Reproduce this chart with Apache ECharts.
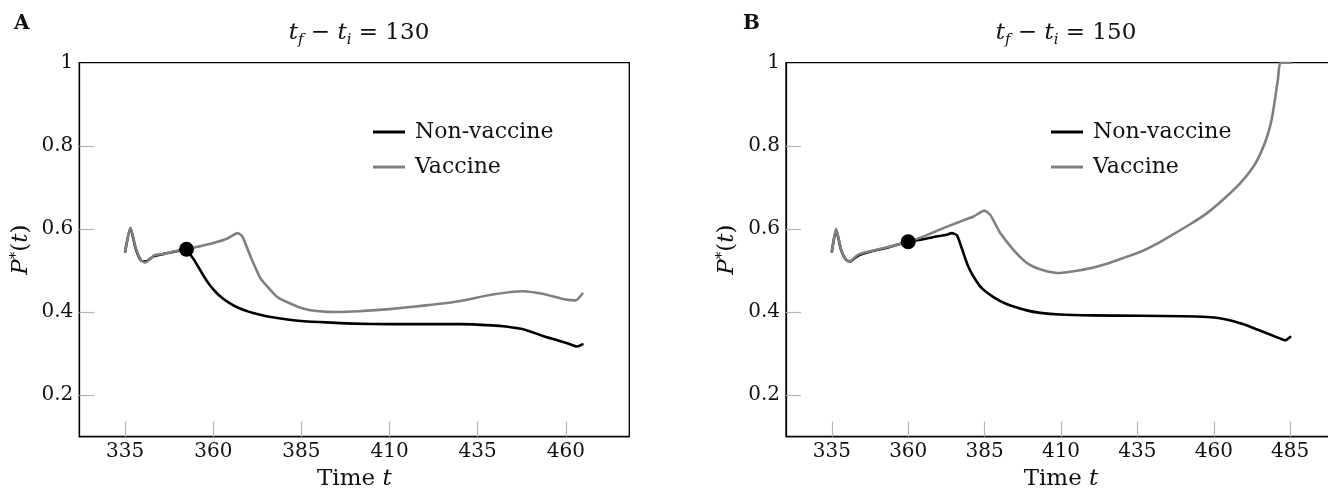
<!DOCTYPE html>
<html><head><meta charset="utf-8">
<script src="https://cdn.jsdelivr.net/npm/echarts@6/dist/echarts.min.js"></script>
<style>html,body{margin:0;padding:0;background:#fff;overflow:hidden}#c{width:1328px;height:491px}</style>
</head><body><div id="c"></div>
<script>
// ---- Panel A (t_f - t_i = 130) ----
const tA_non = [335,336.5,338,339.5,341,343,346,349,352.4,353.5,354.6,356,357.4,359,360.5,362.2,364.5,366.9,370,373,376.3,381,385.7,392,400,410,420,430,439,443,448.6,453.3,458,461,463.2,464.7];
const pA_non = [0.545,0.602,0.552,0.524,0.522,0.534,0.540,0.545,0.551,0.538,0.525,0.505,0.485,0.465,0.450,0.436,0.422,0.411,0.401,0.394,0.388,0.382,0.378,0.375,0.372,0.371,0.371,0.371,0.368,0.365,0.357,0.343,0.331,0.323,0.317,0.322];
const tA_vac = [335,336.5,338,339.5,340.7,342,343.3,346,349,352.4,356,360,364,366.9,368.3,370.6,373.4,376,378.2,382,385.7,390,395,401.4,410,420.3,429.7,439.2,447.7,453.3,460,462.8,463.7,464.7];
const pA_vac = [0.545,0.603,0.555,0.525,0.519,0.527,0.537,0.540,0.546,0.551,0.558,0.566,0.577,0.590,0.581,0.533,0.481,0.455,0.436,0.420,0.408,0.402,0.400,0.402,0.407,0.416,0.426,0.442,0.450,0.444,0.430,0.428,0.434,0.444];
const dotA = [352.4, 0.551];

// ---- Panel B (t_f - t_i = 150) ----
const tB_non = [335,336.4,338,339.5,341,342.5,344.2,348,352,356,360,364,368,372.6,374.3,375.9,377,378.1,379.5,381.4,384,387.9,392,398.8,403.2,409.7,420,436,450,457.8,462,466.5,470,474.2,478,481.8,483.4,485];
const pB_non = [0.545,0.598,0.550,0.527,0.521,0.530,0.538,0.546,0.553,0.561,0.569,0.574,0.580,0.586,0.590,0.585,0.565,0.541,0.512,0.485,0.458,0.436,0.420,0.404,0.398,0.394,0.392,0.391,0.390,0.388,0.385,0.378,0.370,0.358,0.347,0.336,0.332,0.340];
const tB_vac = [335,336.4,338,339.5,341,342.5,344.2,348,352,356,360,365,371.5,376,381.4,384.9,386.8,388.5,390.1,394.5,398,401,405,409.7,414.1,420,425,430,436,441,446,452,457.8,463,468.7,473,475.2,477.5,479,480.1,481,481.8,485];
const pB_vac = [0.545,0.600,0.552,0.527,0.521,0.532,0.540,0.547,0.554,0.561,0.569,0.582,0.602,0.615,0.630,0.644,0.634,0.612,0.590,0.549,0.523,0.509,0.499,0.494,0.498,0.506,0.516,0.529,0.545,0.563,0.584,0.610,0.638,0.670,0.710,0.750,0.780,0.823,0.865,0.915,0.960,1.0,1.0];
const dotB = [360, 0.569];

// ---- axes ----
const xTicksA = [335,360,385,410,435,460];
const xTicksB = [335,360,385,410,435,460,485];
const yTicks = [0.2,0.4,0.6,0.8,1];
const seriesNames = ['Non-vaccine','Vaccine'];
const titlesVal = ['130','150'];
const panelLetters = ['A','B'];

const zip = (t,p) => t.map((v,i)=>[v,p[i]]);
const FONT = 'DejaVu Serif';

function xAxis(idx, min, max, ticks){
  return {type:'value', gridIndex:idx, min, max,
    axisLine:{show:true, onZero:false, lineStyle:{color:'#000', width:1.3}},
    axisTick:{show:true, inside:true, length:15, customValues:ticks, lineStyle:{color:'#b4b4b4', width:1.2}},
    axisLabel:{customValues:ticks, margin:5, fontFamily:FONT, fontSize:20, color:'#111'},
    splitLine:{show:false},
    name:'Time {i|t}', nameLocation:'middle', nameGap:31,
    nameTextStyle:{fontFamily:FONT, fontSize:23, color:'#111', rich:{i:{fontFamily:FONT, fontStyle:'italic', fontSize:23, color:'#111'}}}
  };
}
function yAxis(idx){
  return {type:'value', gridIndex:idx, min:0.1, max:1,
    axisLine:{show:true, onZero:false, lineStyle:{color:'#000', width:1.3}},
    axisTick:{show:true, inside:true, length:15, customValues:[0.2,0.4,0.6,0.8], lineStyle:{color:'#b4b4b4', width:1.2}},
    axisLabel:{customValues:yTicks, margin:6, fontFamily:FONT, fontSize:20, color:'#111',
      formatter:v=> (Math.abs(v-1)<1e-9 ? '1' : v.toFixed(1))},
    splitLine:{show:false},
    name:'{i|P}{s|*}({i|t})', nameLocation:'middle', nameGap:46, nameRotate:90,
    nameTextStyle:{fontFamily:FONT, fontSize:23, color:'#111',
      rich:{i:{fontFamily:FONT, fontStyle:'italic', fontSize:23, color:'#111'},
            s:{fontFamily:FONT, fontSize:15, color:'#111', padding:[0,0,10,0]}}}
  };
}
function lineSeries(name, idx, data, color){
  return {type:'line', name, xAxisIndex:idx, yAxisIndex:idx, data, color,
    showSymbol:false, symbol:'none', smooth:0.2, clip:true,
    lineStyle:{color, width:2.6, join:'round', cap:'round'}, animation:false, z:2};
}
function dotSeries(idx, pt){
  return {type:'scatter', xAxisIndex:idx, yAxisIndex:idx, data:[pt], symbol:'circle', symbolSize:15,
    itemStyle:{color:'#000', opacity:1}, z:5, animation:false, silent:true};
}
function legend(left){
  return {orient:'vertical', left, top:115, itemWidth:32, itemHeight:3, itemGap:11, icon:'rect',
    data:seriesNames, selectedMode:false,
    textStyle:{fontFamily:FONT, fontSize:22, color:'#111', lineHeight:24, padding:[0,0,0,5]}};
}
const titleRich = {
  i:{fontFamily:FONT, fontStyle:'italic', fontWeight:'normal', fontSize:23, color:'#111'},
  s:{fontFamily:FONT, fontStyle:'italic', fontWeight:'normal', fontSize:15, color:'#111', padding:[14,0,0,0]},
  n:{fontFamily:FONT, fontWeight:'normal', fontSize:23, color:'#111'}
};
function title(left, val){
  return {text:'{i|t}{s|f}{n| − }{i|t}{s|i}{n| = '+val+'}', left, top:14, textAlign:'center',
    textStyle:{fontWeight:'normal', rich:titleRich}};
}

const chart = echarts.init(document.getElementById('c'), null, {renderer:'canvas', width:1328, height:491});
chart.setOption({
  animation:false,
  backgroundColor:'#fff',
  title:[
    title(354,titlesVal[0]),
    title(1061,titlesVal[1]),
    {text:panelLetters[0], left:9, top:9, textStyle:{fontFamily:FONT, fontSize:20, fontWeight:'bold', color:'#111'}},
    {text:panelLetters[1], left:738, top:9, textStyle:{fontFamily:FONT, fontSize:20, fontWeight:'bold', color:'#111'}}
  ],
  legend:[legend(368), legend(1046)],
  grid:[
    {left:79.3, top:62.7, width:550, height:374, show:true, borderColor:'#000', borderWidth:1.3, containLabel:false, outerBoundsMode:'none'},
    {left:786, top:62.7, width:550, height:374, show:true, borderColor:'#000', borderWidth:1.3, containLabel:false, outerBoundsMode:'none'}
  ],
  xAxis:[xAxis(0,322,478,xTicksA), xAxis(1,320,500,xTicksB)],
  yAxis:[yAxis(0), yAxis(1)],
  series:[
    lineSeries(seriesNames[0],0,zip(tA_non,pA_non),'#000'),
    lineSeries(seriesNames[1],0,zip(tA_vac,pA_vac),'#808080'),
    dotSeries(0,dotA),
    lineSeries(seriesNames[0],1,zip(tB_non,pB_non),'#000'),
    lineSeries(seriesNames[1],1,zip(tB_vac,pB_vac),'#808080'),
    dotSeries(1,dotB)
  ]
});
</script></body></html>
